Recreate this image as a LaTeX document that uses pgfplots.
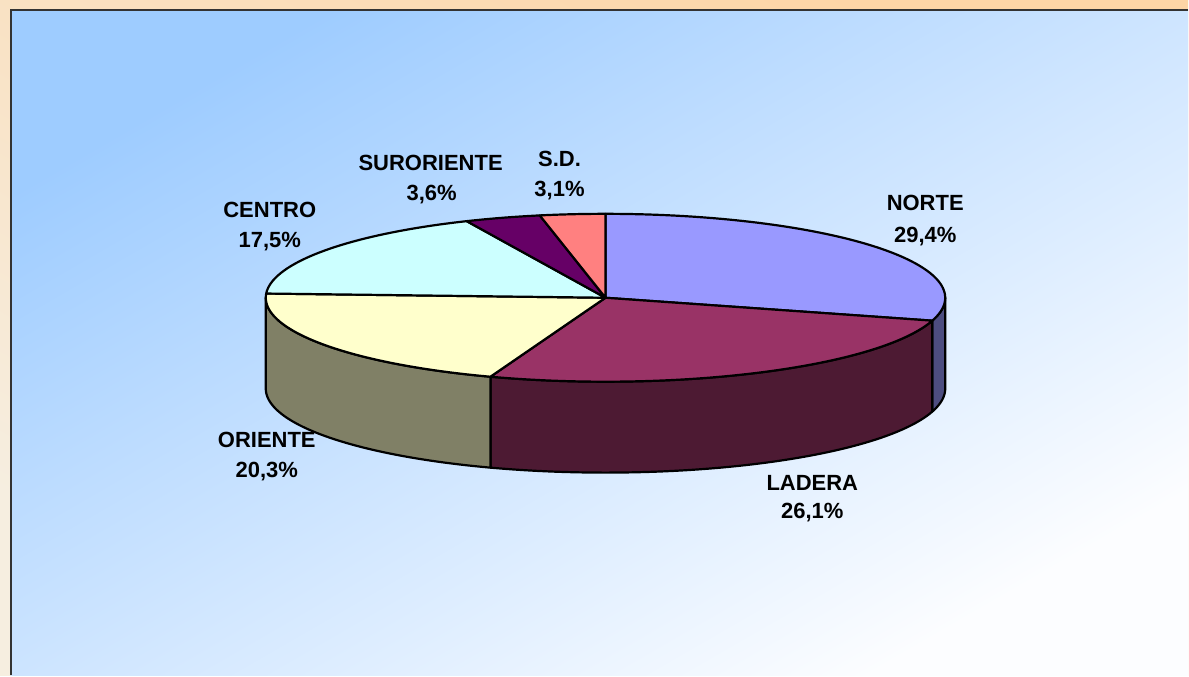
\documentclass[border=0pt]{standalone}
\usepackage{fontspec}
\setmainfont{Liberation Sans}
\usepackage{pgfplots}
\usepackage{pgfplotstable}
\pgfplotsset{compat=1.18}

\definecolor{cNorte}{HTML}{9999FF}
\definecolor{sNorte}{HTML}{4D4D80}
\definecolor{cLadera}{HTML}{993366}
\definecolor{sLadera}{HTML}{4D1A33}
\definecolor{cOriente}{HTML}{FFFFCC}
\definecolor{sOriente}{HTML}{808066}
\definecolor{cCentro}{HTML}{CCFFFF}
\definecolor{cSur}{HTML}{660066}
\definecolor{cSD}{HTML}{FF8080}
\definecolor{bgA}{HTML}{9ECCFF}
\definecolor{bgB}{HTML}{FCFDFF}
\definecolor{ouA}{HTML}{FDD5A6}
\definecolor{ouB}{HTML}{F6EEE0}

\pgfplotstableread{
label value
NORTE 29.4
LADERA 26.1
ORIENTE 20.3
CENTRO 17.5
SURORIENTE 3.6
S.D. 3.1
}\piedata

% geometry (pixel units)
\def\CX{606}
\def\CY{298}
\def\RX{340}
\def\RY{84}
\def\D{91}

\newcommand\topface[3]{%
  \addplot[fill=#3, draw=black, line width=1.1bp, line join=round,
    domain=#2:#1, samples=90, variable=\t]
    ({\CX+\RX*cos(\t)},{\CY-\RY*sin(\t)}) -- (axis cs:\CX,\CY) -- cycle;}

\newcommand\sideface[3]{%
  \addplot[fill=#3, draw=black, line width=1.1bp, line join=round,
    domain=0:2.02, samples=203, variable=\t]
    ({\CX+\RX*cos((#1)+((#2)-(#1))*min(\t,1)+((#1)-(#2))*max(\t-1.02,0))},
     {\CY-\RY*sin((#1)+((#2)-(#1))*min(\t,1)+((#1)-(#2))*max(\t-1.02,0))+\D*min(max((\t-1)/0.02,0),1)})
    -- cycle;}

\begin{document}%
\begin{tikzpicture}
\pgfplotstablegetelem{0}{value}\of\piedata \let\vA\pgfplotsretval
\pgfplotstablegetelem{1}{value}\of\piedata \let\vB\pgfplotsretval
\pgfplotstablegetelem{2}{value}\of\piedata \let\vC\pgfplotsretval
\pgfplotstablegetelem{3}{value}\of\piedata \let\vD\pgfplotsretval
\pgfplotstablegetelem{4}{value}\of\piedata \let\vE\pgfplotsretval
\pgfplotstablegetelem{5}{value}\of\piedata \let\vF\pgfplotsretval
\pgfmathsetmacro\aA{90}
\pgfmathsetmacro\aB{\aA-3.6*\vA}
\pgfmathsetmacro\aC{\aB-3.6*\vB}
\pgfmathsetmacro\aD{\aC-3.6*\vC}
\pgfmathsetmacro\aE{\aD-3.6*\vD}
\pgfmathsetmacro\aF{\aE-3.6*\vE}
\pgfmathsetmacro\aG{\aF-3.6*\vF}
\begin{axis}[width=594.5bp, height=338bp, scale only axis,
  xmin=0, xmax=1189, ymin=0, ymax=676, y dir=reverse,
  hide axis, clip=false]
% backgrounds
\fill[top color=ouA, bottom color=ouB, shading angle=-30] (axis cs:0,0) rectangle (axis cs:1189,676);
\fill[top color=bgA, bottom color=bgB, shading angle=30] (axis cs:11,10) rectangle (axis cs:1189,676);
\draw[line width=1bp, color=black!80] (axis cs:11,676) -- (axis cs:11,10) -- (axis cs:1189,10);
% side faces (front half only)
\sideface{0}{\aB}{sNorte}
\sideface{\aB}{\aC}{sLadera}
\sideface{\aC}{-180}{sOriente}
% top faces
\topface{\aA}{\aB}{cNorte}
\topface{\aB}{\aC}{cLadera}
\topface{\aC}{\aD}{cOriente}
\topface{\aD}{\aE}{cCentro}
\topface{\aE}{\aF}{cSur}
\topface{\aF}{\aG}{cSD}
% labels
\tikzset{lab/.style={anchor=base, inner sep=0pt, font=\fontsize{11bp}{13bp}\selectfont\bfseries}}
\node[lab] at (axis cs:926,211) {NORTE};
\node[lab] at (axis cs:926,243) {29,4\%};
\node[lab] at (axis cs:813,491) {LADERA};
\node[lab] at (axis cs:813,519) {26,1\%};
\node[lab] at (axis cs:267,448) {ORIENTE};
\node[lab] at (axis cs:267,478) {20,3\%};
\node[lab] at (axis cs:270,218) {CENTRO};
\node[lab] at (axis cs:270,248) {17,5\%};
\node[lab] at (axis cs:431,171) {SURORIENTE};
\node[lab] at (axis cs:432,201) {3,6\%};
\node[lab] at (axis cs:560,167) {S.D.};
\node[lab] at (axis cs:560,197) {3,1\%};
\end{axis}
\end{tikzpicture}%
\end{document}
